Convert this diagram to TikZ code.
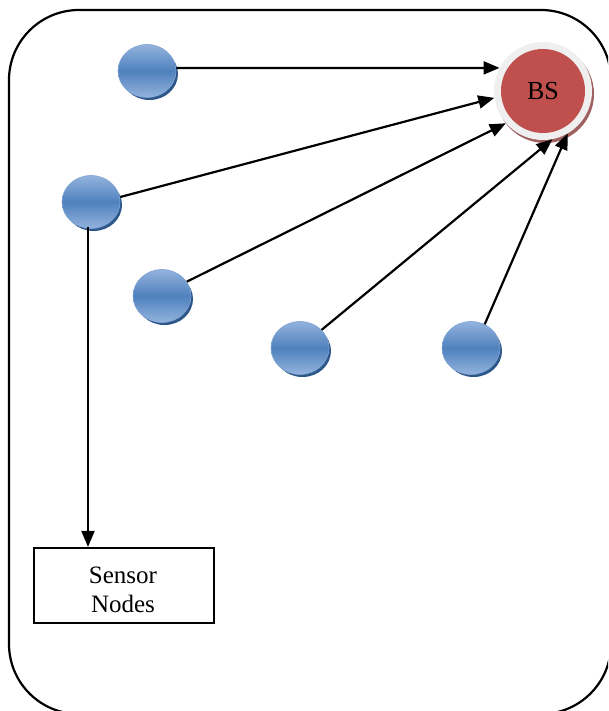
\documentclass[tikz,border=0pt]{standalone}
\usepackage{fontspec}
\setmainfont{Liberation Serif}
\usetikzlibrary{arrows.meta,shadings,shapes.geometric}
\definecolor{nodeblue}{HTML}{4F81BD}
\definecolor{nodelight}{HTML}{93B3DE}
\definecolor{nodedark}{HTML}{2C5788}
\definecolor{bsred}{HTML}{C0504D}
\definecolor{bsshadow}{HTML}{A06060}
\definecolor{ringgrey}{HTML}{EFEFEF}
\tikzset{
  x=1pt,y=-1pt,
  sensor/.style={ellipse,minimum width=58pt,minimum height=53pt,inner sep=0pt,
    top color=nodelight,bottom color=nodelight,middle color=nodeblue,
    draw=nodelight!70!nodeblue,line width=0.6pt},
  arr/.style={line width=2.2pt,-{Triangle[length=16pt,width=13pt]}},
  frame/.style={draw=black,line width=2.2pt,rounded corners=70pt},
}
\begin{document}
\begin{tikzpicture}
\useasboundingbox (0,0) rectangle (608,711);
\begin{scope}
\clip (0,0) rectangle (608,711);
\draw[frame] (9,10) rectangle (611,714);
\end{scope}
% shadows
\foreach \p in {(149.5,74),(93.5,205),(164.5,299),(302.5,351),(473.5,351)}{
  \fill[nodedark] \p ellipse (28.5pt and 26pt);
}
\node[sensor] (n1) at (147,71) {};
\node[sensor] (n2) at (91,202) {};
\node[sensor] (n3) at (162,296) {};
\node[sensor] (n4) at (300,348) {};
\node[sensor] (n5) at (471,348) {};
% BS
\fill[bsshadow] (545,94) circle (49pt);
\node[circle,fill=ringgrey,minimum size=98pt,inner sep=0pt] (ring) at (543,91) {};
\node[circle,fill=bsred,minimum size=84pt,inner sep=0pt,font=\fontsize{26}{28}\selectfont] (bs) at (543,91) {BS};
% sensor nodes box
\node[draw=black,line width=2.2pt,minimum width=180pt,minimum height=75pt,inner sep=0pt] (box) at (124,585.5) {};
\begin{scope}
\clip (35,549) rectangle (213,612);
\node[font=\fontsize{25}{29}\selectfont,align=center,anchor=north,inner sep=0pt] (lbl) at (123,567) {Sensor\\Nodes};
\end{scope}
% arrows
\draw[arr] (n1.east |- 0,68) -- (ring.152);
\draw[arr] (n2.east) ++(0,-5) -- (ring.188);
\draw[arr] (n3.30) -- (ring.221);
\draw[arr] (n4.40) -- (ring.281);
\draw[arr] (n5.60) -- (ring.300);
\draw[arr] (n2.south) ++(-3,-2) -- (box.north -| 88,0);
\end{tikzpicture}
\end{document}
